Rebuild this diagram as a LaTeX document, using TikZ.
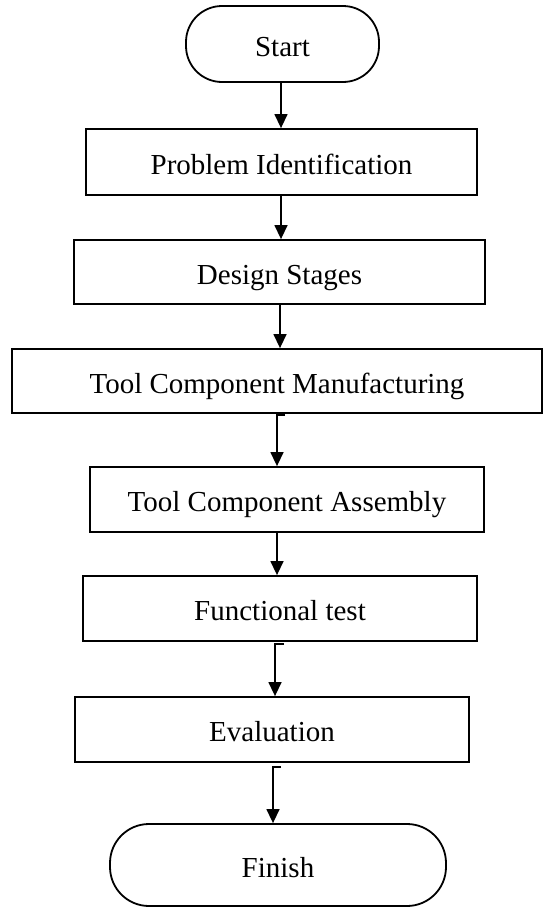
\documentclass[tikz,border=0pt]{standalone}
\usepackage{fontspec}
\setmainfont{Liberation Serif}
\usetikzlibrary{arrows.meta,calc}
\begin{document}
\begin{tikzpicture}[x=1pt,y=-1pt,
  every node/.style={font=\fontsize{29}{34}\selectfont, text height=24pt, text depth=0pt, inner sep=0pt},
  procbox/.style={draw, line width=1.8pt, rectangle},
  termbox/.style={draw, line width=1.8pt, rectangle, rounded corners=#1},
  arr/.style={line width=1.4pt, -{Triangle[length=14pt,width=13pt]}}]
\useasboundingbox (0,0) rectangle (544,910);

\node[termbox=36pt, minimum width=193pt, minimum height=76pt] (start) at (282.5,44) {Start};
\node[procbox, minimum width=391pt, minimum height=66pt] (pi) at (281.5,162) {Problem Identification};
\node[procbox, minimum width=411pt, minimum height=64pt] (ds) at (279.5,272) {Design Stages};
\node[procbox, minimum width=530pt, minimum height=64pt] (mfg) at (277,381) {Tool Component Manufacturing};
\node[procbox, minimum width=394pt, minimum height=65pt] (asm) at (287,499.5) {Tool Component Assembly};
\node[procbox, minimum width=394pt, minimum height=65pt] (func) at (280,608.5) {Functional test};
\node[procbox, minimum width=394pt, minimum height=65pt] (eval) at (272,729.5) {Evaluation};
\node[termbox=39pt, minimum width=336pt, minimum height=82pt] (finish) at (278,865) {Finish};

% straight connectors
\coordinate (a1) at ($(start.south)+(-1.5,0)$);
\draw[arr] (a1) -- (a1 |- pi.north);
\coordinate (a2) at ($(pi.south)+(-0.5,0)$);
\draw[arr] (a2) -- (a2 |- ds.north);
\coordinate (a3) at ($(ds.south)+(0.5,0)$);
\draw[arr] (a3) -- (a3 |- mfg.north);

% connector with small stub: mfg -> asm
\coordinate (b1) at ($(mfg.south)+(8,1)$);
\coordinate (b2) at ($(mfg.south)+(0,1)$);
\draw[arr] (b1) -- (b2) -- (b2 |- asm.north);

\coordinate (a4) at ($(asm.south)+(-10,0)$);
\draw[arr] (a4) -- (a4 |- func.north);

% func -> eval with stub
\coordinate (c1) at ($(func.south)+(4,2)$);
\coordinate (c2) at ($(func.south)+(-5,2)$);
\draw[arr] (c1) -- (c2) -- (c2 |- eval.north);

% eval -> finish with stub
\coordinate (d1) at ($(eval.south)+(9,4)$);
\coordinate (d2) at ($(eval.south)+(1,4)$);
\draw[arr] (d1) -- (d2) -- (d2 |- finish.north);
\end{tikzpicture}
\end{document}
